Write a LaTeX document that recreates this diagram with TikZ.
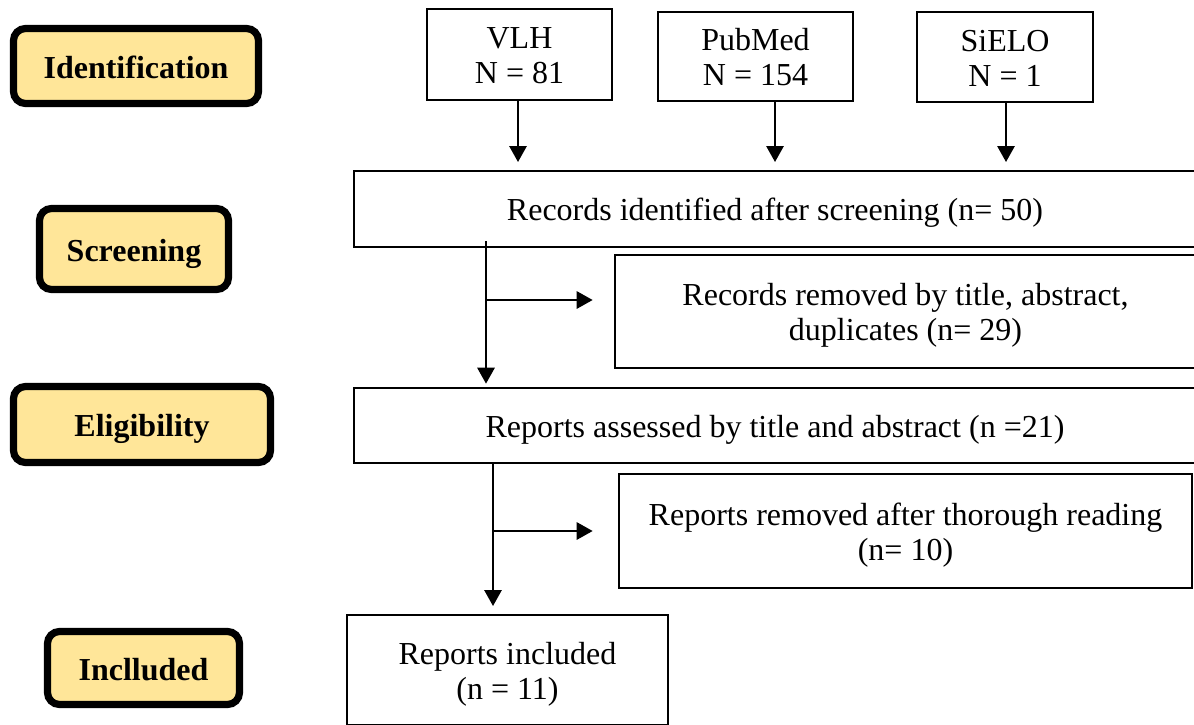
\documentclass[tikz,border=0pt]{standalone}
\usepackage{fontspec}
\setmainfont{Liberation Serif}
\usetikzlibrary{arrows.meta}
\definecolor{labfill}{HTML}{FFE699}
\begin{document}
\begin{tikzpicture}[x=0.75pt,y=-0.75pt,
  box/.style={draw, line width=1.5pt, inner sep=0pt, align=center, text height=23pt, text depth=5.3pt, font=\fontsize{24}{26}\selectfont},
  twoline/.style={text height=49pt},
  stage/.style={draw, line width=5.4pt, fill=labfill, rounded corners=9pt, inner sep=0pt, text height=24pt, text depth=5.3pt, font=\fontsize{24}{26}\selectfont\bfseries},
  arr/.style={line width=1.5pt, -{Triangle[length=12pt,width=13pt]}}]
\clip (0,0) rectangle (1194,724);
% stage labels
\node[stage, minimum width=183.75pt, minimum height=56.25pt] (l1) at (136,66) {Identification};
\node[stage, minimum width=141.75pt, minimum height=60.75pt] (l2) at (134,249) {Screening};
\node[stage, minimum width=192.75pt, minimum height=57pt] (l3) at (142,424.5) {Eligibility};
\node[stage, minimum width=144pt, minimum height=54.75pt] (l4) at (143.5,668) {Inclluded};
% sources
\node[box, twoline, minimum width=138.75pt, minimum height=68.25pt] (vlh) at (519.5,54.5) {VLH\\N = 81};
\node[box, twoline, minimum width=146.25pt, minimum height=66.75pt] (pub) at (755.5,56.5) {PubMed\\N = 154};
\node[box, twoline, minimum width=132pt, minimum height=67.5pt] (sie) at (1005,57) {SiELO\\N = 1};
% main flow
\node[box, minimum width=631.5pt, minimum height=57pt] (rec) at (775,209) {Records identified after screening (n= 50)};
\node[box, twoline, minimum width=435.75pt, minimum height=84.75pt] (rem1) at (905.5,311.5) {Records removed by title, abstract,\\duplicates (n= 29)};
\node[box, minimum width=631.5pt, minimum height=56.25pt] (ass) at (775,425.5) {Reports assessed by title and abstract (n =21)};
\node[box, twoline, minimum width=429.75pt, minimum height=85.5pt] (rem2) at (905.5,531) {Reports removed after thorough reading\\(n= 10)};
\node[box, twoline, minimum width=240.75pt, minimum height=82.5pt] (inc) at (507.5,670) {Reports included\\(n = 11)};
% connectors
\coordinate (v1) at (518,100);
\coordinate (p1) at (775,101);
\coordinate (s1) at (1006,102);
\draw[arr, shorten >=6pt] (v1) -- (v1 |- rec.north);
\draw[arr, shorten >=6pt] (p1) -- (p1 |- rec.north);
\draw[arr, shorten >=6pt] (s1) -- (s1 |- rec.north);
\coordinate (r1) at (486,241);
\coordinate (b1) at (486,300);
\draw[arr, shorten >=2.5pt] (r1) -- (r1 |- ass.north);
\draw[arr, shorten >=16pt] (b1) -- (b1 -| rem1.west);
\coordinate (a1) at (493,463);
\coordinate (b2) at (493,531);
\draw[arr, shorten >=6pt] (a1) -- (a1 |- inc.north);
\draw[arr, shorten >=19pt] (b2) -- (b2 -| rem2.west);
\end{tikzpicture}
\end{document}
